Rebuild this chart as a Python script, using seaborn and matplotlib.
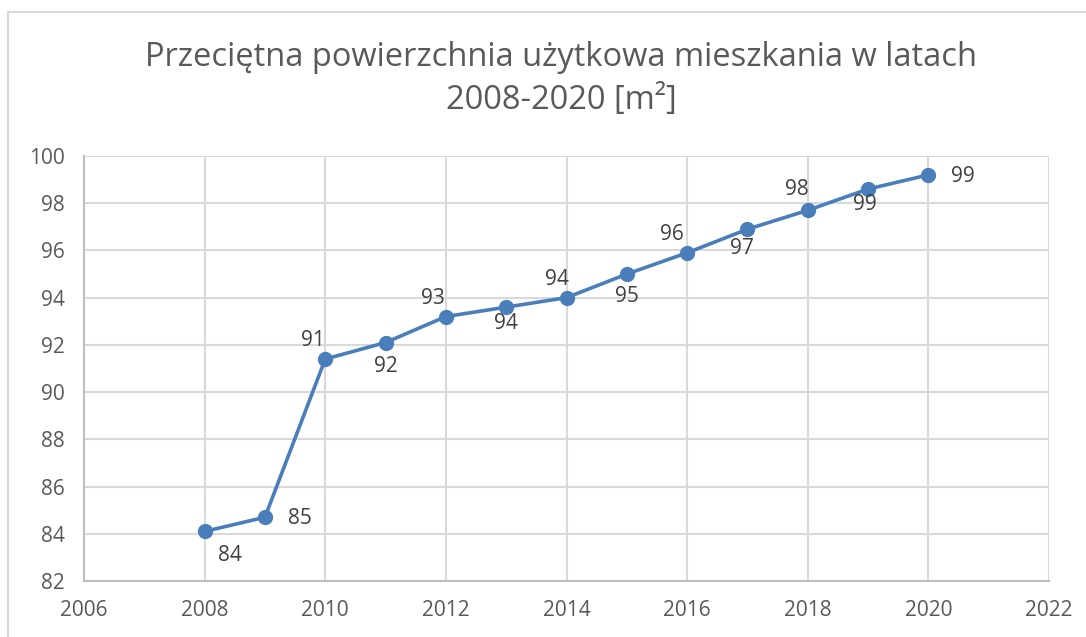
import numpy as np
import pandas as pd
import matplotlib
matplotlib.use("Agg")
import matplotlib.pyplot as plt
import seaborn as sns
from matplotlib.lines import Line2D

# Data
years = [2008, 2009, 2010, 2011, 2012, 2013, 2014, 2015, 2016, 2017, 2018, 2019, 2020]
area = [84.1, 84.7, 91.4, 92.1, 93.2, 93.6, 94.0, 95.0, 95.9, 96.9, 97.7, 98.6, 99.2]
# label placement around each point (offset in points)
label_offsets = [(18, -17), (25, -1), (-9, 13), (0, -17), (-9, 13), (0, -12),
                 (-7, 13), (0, -16), (-11, 13), (-4, -14), (-8, 15), (-2, -11), (25, -1)]

df = pd.DataFrame({"rok": years, "powierzchnia": area})

sns.set_style("white")
plt.rcParams['font.family'] = ['Open Sans', 'DejaVu Sans']

BLUE = '#4a7ebb'
GRID = '#d9d9d9'
TXT = '#595959'

fig = plt.figure(figsize=(10.86, 6.37), dpi=100)
ax = fig.add_axes([84 / 1086, 56 / 637, 965 / 1086, 425 / 637])

sns.lineplot(data=df, x="rok", y="powierzchnia", ax=ax, color=BLUE, linewidth=2.6,
             marker='o', markersize=11, markeredgewidth=0, markerfacecolor=BLUE)

for x, y, (dx, dy) in zip(years, area, label_offsets):
    ax.annotate(f"{y:.0f}", (x, y), xytext=(dx, dy), textcoords='offset points',
                ha='center', va='center', fontsize=15, color='#404040')

ax.set_xlim(2006, 2022)
ax.set_ylim(82, 100)
ax.set_xticks(np.arange(2006, 2023, 2))
ax.set_yticks(np.arange(82, 101, 2))
ax.grid(True, color=GRID, linewidth=1.5)
ax.set_axisbelow(True)
for side in ['left', 'bottom']:
    ax.spines[side].set_color('#bfbfbf')
    ax.spines[side].set_linewidth(1.5)
for side in ['top', 'right']:
    ax.spines[side].set_visible(False)
ax.tick_params(axis='both', length=0, labelsize=15, colors=TXT)
ax.tick_params(axis='y', pad=14)
ax.tick_params(axis='x', pad=14)
ax.set_xlabel('')
ax.set_ylabel('')

fig.text(0.517, 1 - 58 / 637, 'Przeciętna powierzchnia użytkowa mieszkania w latach',
         ha='center', va='center', fontsize=23.5, color=TXT)
fig.text(0.517, 1 - 101 / 637, '2008-2020 [m²]',
         ha='center', va='center', fontsize=23.5, color=TXT)

# outer chart frame
fig.add_artist(Line2D([8 / 1086, 1], [1 - 12 / 637, 1 - 12 / 637], color=GRID, linewidth=1.5,
                      transform=fig.transFigure))
fig.add_artist(Line2D([8 / 1086, 8 / 1086], [0, 1 - 12 / 637], color=GRID, linewidth=1.5,
                      transform=fig.transFigure))

fig.savefig('out.png', dpi=100)
